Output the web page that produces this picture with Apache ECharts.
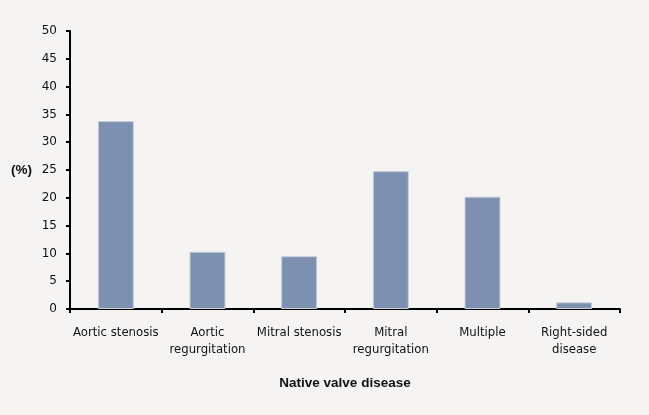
<!DOCTYPE html>
<html><head><meta charset="utf-8">
<script src="https://cdn.jsdelivr.net/npm/echarts@6/dist/echarts.min.js"></script>
<style>html,body{margin:0;padding:0;background:#f5f4f2;}#c{width:649px;height:415px;}</style>
</head><body><div id="c"></div>
<script>
const categories = ["Aortic stenosis", "Aortic\nregurgitation", "Mitral stenosis", "Mitral\nregurgitation", "Multiple", "Right-sided\ndisease"];
const values = [33.8, 10.3, 9.5, 24.8, 20.2, 1.2];
const yTicks = [0, 5, 10, 15, 20, 25, 30, 35, 40, 45, 50];
const xTitle = "Native valve disease";
const yTitle = "(%)";

const chart = echarts.init(document.getElementById('c'), null, {renderer: 'canvas'});
chart.setOption({
  backgroundColor: '#f5f4f2',
  animation: false,
  grid: {left: 70, right: 29, top: 31, bottom: 106, containLabel: false},
  xAxis: {
    type: 'category', data: categories,
    axisLine: {lineStyle: {color: '#000', width: 2}},
    axisTick: {show: true, length: 4, lineStyle: {color: '#000', width: 2}},
    axisLabel: {color: '#111', fontFamily: 'Liberation Sans Narrow, DejaVu Sans Condensed, sans-serif', fontSize: 13, lineHeight: 17, margin: 15, interval: 0},
    name: xTitle, nameLocation: 'middle', nameGap: 67,
    nameTextStyle: {color: '#111', fontFamily: 'Liberation Sans, sans-serif', fontSize: 13.5, fontWeight: 'bold'}
  },
  yAxis: {
    type: 'value', min: yTicks[0], max: yTicks[yTicks.length - 1], interval: 5,
    axisLine: {show: true, lineStyle: {color: '#000', width: 2}},
    axisTick: {show: true, length: 4, lineStyle: {color: '#000', width: 2}},
    splitLine: {show: false},
    axisLabel: {color: '#111', fontFamily: 'DejaVu Sans, sans-serif', fontSize: 12, margin: 13},
    name: yTitle, nameLocation: 'middle', nameRotate: 0, nameGap: 38,
    nameTextStyle: {color: '#111', fontFamily: 'Liberation Sans, Arial, sans-serif', fontSize: 13.5, fontWeight: 'bold'}
  },
  series: [{
    type: 'bar', data: values, barWidth: 36,
    itemStyle: {color: '#7d90b2', borderColor: '#c8cfdc', borderWidth: 1}
  }]
});
</script></body></html>
